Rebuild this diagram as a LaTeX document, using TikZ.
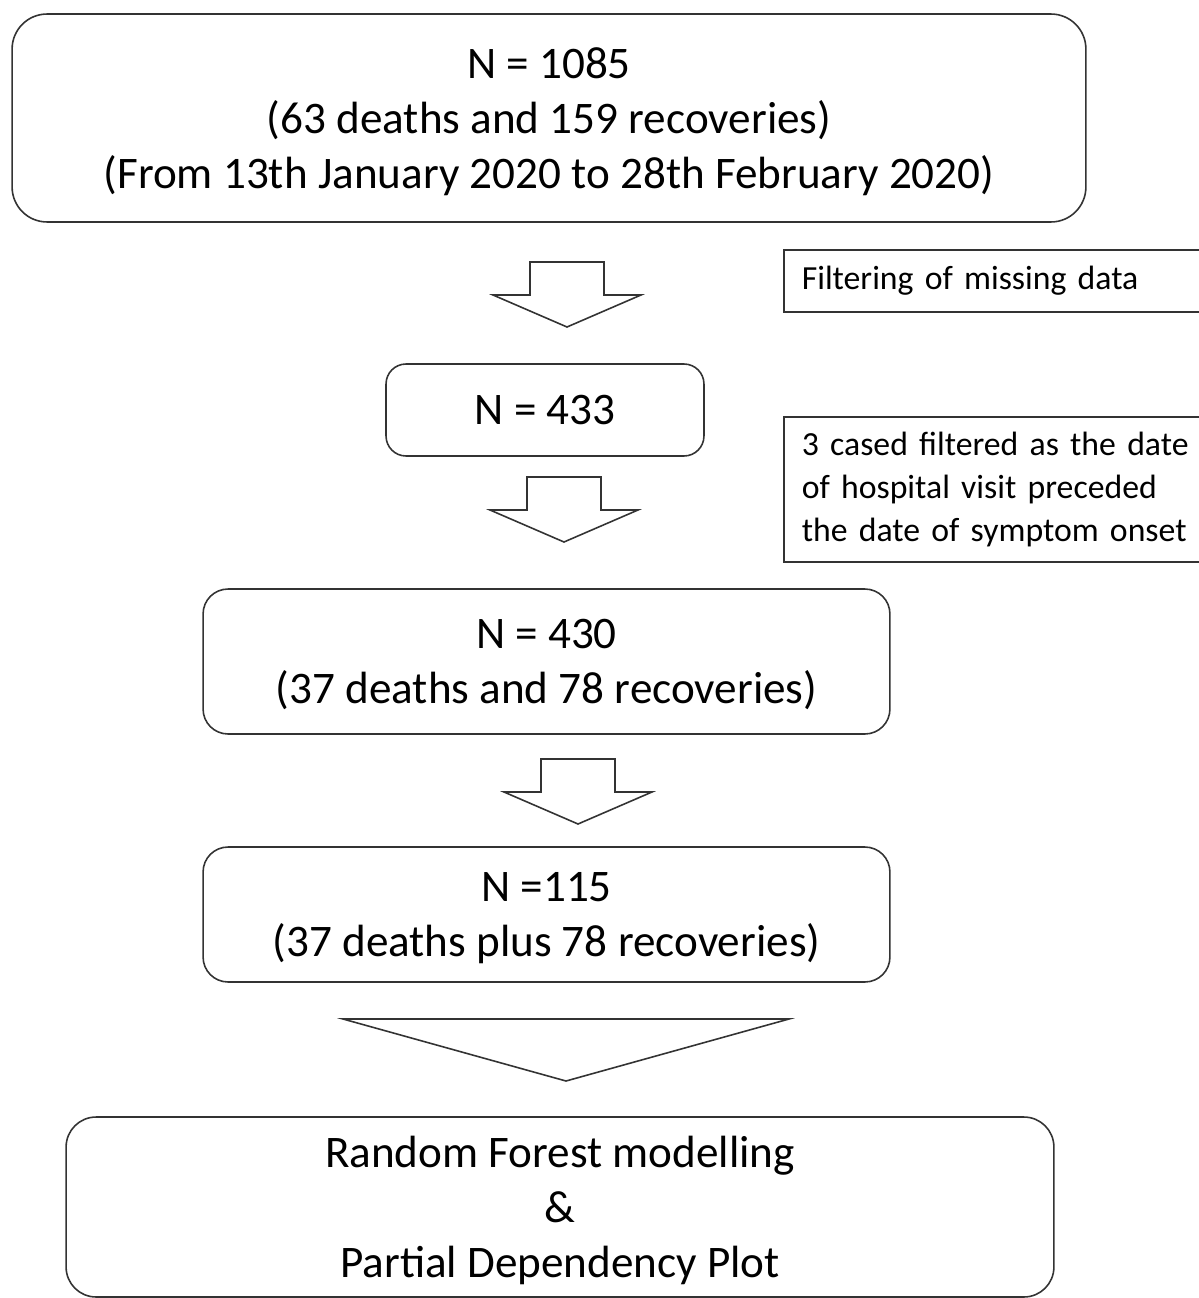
\documentclass[tikz,border=0pt]{standalone}
\usepackage{fontspec}
\setmainfont{Carlito}
\usetikzlibrary{positioning}

\begin{document}
\begin{tikzpicture}[
    x=0.02cm, y=-0.02cm,
    big/.style={font=\fontsize{25.7pt}{31.3pt}\selectfont},
    small/.style={font=\fontsize{19.2pt}{24.4pt}\selectfont},
    stepbox/.style={big, draw=black!80, line width=0.9pt, fill=white, align=center,
                    inner sep=0pt, text depth=0pt, rounded corners=#1},
    notebox/.style={small, draw=black!80, line width=0.9pt, anchor=north west, align=left,
                    inner xsep=0.36cm, inner ysep=0pt, text width=9cm},
    fat/.style={draw=black!80, line width=0.9pt, fill=white},
    fatarrow/.pic={\draw[fat] (-37,0) -- (37,0) -- (37,33) -- (74,33) -- (0,65) -- (-74,33) -- (-37,33) -- cycle;}]
    \clip (0,0) rectangle (1199,1298);
    \node[stepbox=0.7cm, minimum width=21.48cm, minimum height=4.16cm] (all) at (549,118)
        {N = 1085\\(63 deaths and 159 recoveries)\\(From 13th January 2020 to 28th February 2020)};
    \node[stepbox=0.4cm, minimum width=6.36cm, minimum height=1.84cm] (kept) at (545,410) {N = 433};
    \node[stepbox=0.5cm, minimum width=13.74cm, minimum height=2.9cm] (valid) at (546.5,661.5)
        {N = 430\\(37 deaths and 78 recoveries)};
    \node[stepbox=0.5cm, minimum width=13.74cm, minimum height=2.7cm] (final) at (546.5,914.5)
        {N =115\\(37 deaths plus 78 recoveries)};
    \node[stepbox=0.6cm, minimum width=19.76cm, minimum height=3.6cm] (model) at (560,1207)
        {Random Forest modelling\\\&\\Partial Dependency Plot};
    \node[notebox, minimum height=1.24cm] (filter) at (783,249) {Filtering of missing data};
    \node[notebox, minimum height=2.9cm] (drop) at (783,416)
        {3 cased filtered as the date\\of hospital visit preceded\\the date of symptom onset};
    \pic (a1) at (567,262) {fatarrow};
    \pic (a2) at (564,477) {fatarrow};
    \pic (a3) at (578,759) {fatarrow};
    \draw[fat] (343,1019) -- (789,1019) -- (566,1081) -- cycle;
\end{tikzpicture}
\end{document}
